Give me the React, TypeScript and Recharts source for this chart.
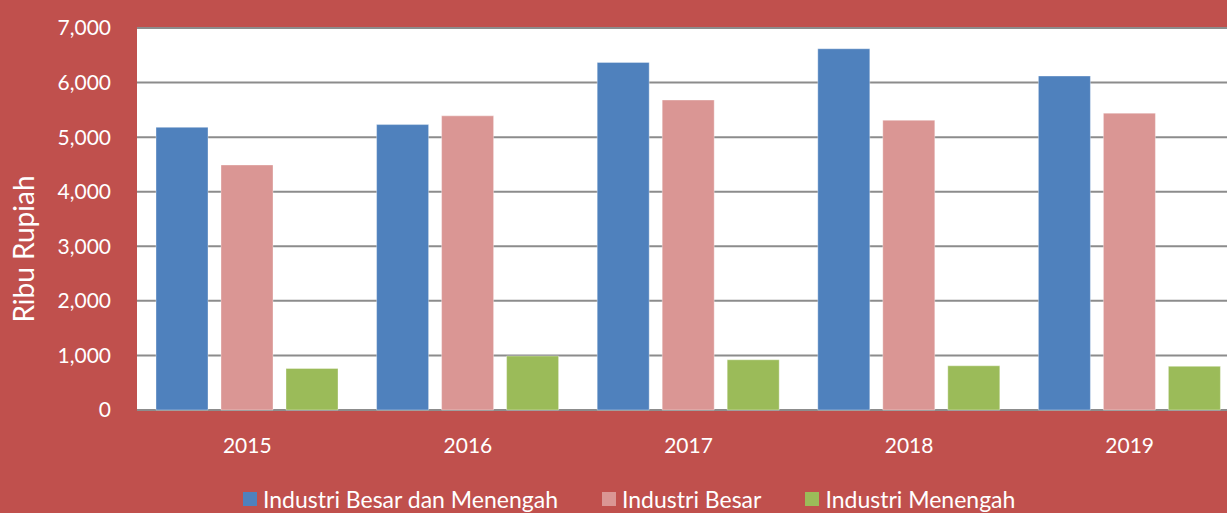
import React from 'react';
import { BarChart, Bar, XAxis, YAxis, CartesianGrid } from 'recharts';

const years = ['2015', '2016', '2017', '2018', '2019'];
const besarDanMenengah = [5180, 5230, 6370, 6620, 6120];
const besar = [4490, 5390, 5680, 5310, 5440];
const menengah = [760, 990, 920, 810, 800];
const yTicks = [0, 1000, 2000, 3000, 4000, 5000, 6000, 7000];

const seriesInfo = [
  { key: 'bdm', name: 'Industri Besar dan Menengah', color: '#4F81BD' },
  { key: 'b', name: 'Industri Besar', color: '#DA9694' },
  { key: 'm', name: 'Industri Menengah', color: '#9BBB59' },
];

const data = years.map((year, i) => ({
  year,
  bdm: besarDanMenengah[i],
  b: besar[i],
  m: menengah[i],
}));

const FONT = 'Lato, "Open Sans", sans-serif';

// legend sits below the plot, partly cut off by the frame like the source
const LegendRow = () => (
  <div
    style={{
      position: 'absolute',
      top: 484,
      left: 243,
      display: 'flex',
      fontFamily: FONT,
      fontSize: 23,
      lineHeight: '30px',
      color: '#fff',
      whiteSpace: 'nowrap',
    }}
  >
    {seriesInfo.map((s) => (
      <div key={s.key} style={{ display: 'flex', alignItems: 'center', marginRight: 44 }}>
        <div style={{ width: 14, height: 14, background: s.color, marginRight: 6 }} />
        <span>{s.name}</span>
      </div>
    ))}
  </div>
);

const AxisTitle = () => (
  <text
    x={34}
    y={249}
    transform="rotate(-90, 34, 249)"
    textAnchor="middle"
    fill="#fff"
    fontSize={28}
    fontFamily={FONT}
  >
    Ribu Rupiah
  </text>
);

export default function App() {
  return (
    <>
      <style>{'body{margin:0}'}</style>
      <div style={{ width: 1227, height: 513, overflow: 'hidden', background: '#C0504D', position: 'relative' }}>
        <BarChart
          width={1260}
          height={513}
          data={data}
          margin={{ top: 28, right: 20, left: 0, bottom: 73 }}
          barCategoryGap={19}
          barGap={13}
        >
          <CartesianGrid vertical={false} fill="#ffffff" stroke="#8c8c8c" strokeWidth={2} />
          <XAxis
            dataKey="year"
            height={30}
            axisLine={false}
            tickLine={false}
            tick={{ fill: '#fff', fontSize: 21, fontFamily: FONT }}
            tickMargin={22}
          />
          <YAxis
            width={137}
            domain={[0, 7000]}
            ticks={yTicks}
            axisLine={false}
            tickLine={false}
            tickMargin={20}
            tick={{ fill: '#fff', fontSize: 21, fontFamily: FONT }}
            tickFormatter={(v: number) => v.toLocaleString('en-US')}
            label={<AxisTitle />}
          />
          {seriesInfo.map((s) => (
            <Bar
              key={s.key}
              dataKey={s.key}
              name={s.name}
              fill={s.color}
              stroke="rgba(255,255,255,0.35)"
              strokeWidth={1}
              isAnimationActive={false}
            />
          ))}
        </BarChart>
        <LegendRow />
      </div>
    </>
  );
}
